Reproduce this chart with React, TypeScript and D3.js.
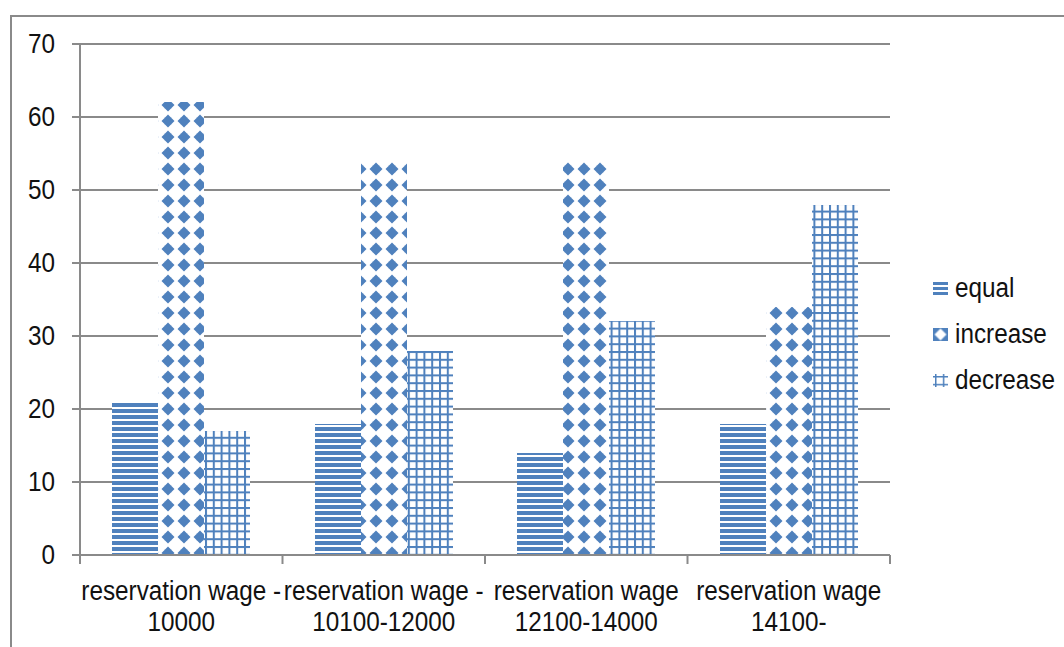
import React from "react";
import * as d3 from "d3";

const categories = [
  ["reservation wage -", "10000"],
  ["reservation wage -", "10100-12000"],
  ["reservation wage", "12100-14000"],
  ["reservation wage", "14100-"],
];
const seriesNames = ["equal", "increase", "decrease"];
const equalValues = [21, 18, 14, 18];
const increaseValues = [62, 54, 54, 34];
const decreaseValues = [17, 28, 32, 48];
const yTicks = [0, 10, 20, 30, 40, 50, 60, 70];

const W = 1064;
const H = 647;
const BLUE = "#4f81bd";
const GRID = "#8a8a8a";
const FONT = "'Liberation Sans', Arial, sans-serif";
const FS = 24.3;
const SY = 1.1;

function Label({ x, y, anchor, children }: { x: number; y: number; anchor: string; children: React.ReactNode }) {
  return (
    <g transform={`translate(${x},${y}) scale(1,${SY})`}>
      <text x={0} y={0} dy="0.35em" textAnchor={anchor} fontFamily={FONT} fontSize={FS} fill="#111">
        {children}
      </text>
    </g>
  );
}

export default function App() {
  const left = 80, right = 890, top = 44, bottom = 555;
  const y = d3.scaleLinear().domain([0, 70]).range([bottom, top]);
  const catIdx = categories.map((_, i) => String(i));
  const x0 = d3.scaleBand().domain(catIdx).range([left, right]).paddingInner(0.3185).paddingOuter(0.3185 / 2);
  const x1 = d3.scaleBand().domain(seriesNames).range([0, x0.bandwidth()]);
  const step = x0.step();
  const seriesData = [equalValues, increaseValues, decreaseValues];
  const fills = ["url(#pEqual)", "url(#pIncrease)", "url(#pDecrease)"];
  const legendFills = ["url(#pEqualL)", "url(#pIncreaseL)", "url(#pDecreaseL)"];
  const boundaries = d3.range(categories.length + 1).map((i) => left + i * step);

  const diamond = "M8,1.5 L14.5,8 L8,14.5 L1.5,8 Z M4.5,4.5 H11.5 V11.5 H4.5 Z";
  const legendX = 933;
  const legendY = [288, 334, 380];

  return (
    <svg width={W} height={H} style={{ position: "absolute", left: 0, top: 0, background: "#fff" }}>
      <defs>
        <pattern id="pEqual" patternUnits="userSpaceOnUse" width="8" height="6" x="0" y="1">
          <rect width="8" height="6" fill="#fff" />
          <rect width="8" height="4" fill={BLUE} />
        </pattern>
        <pattern id="pIncrease" patternUnits="userSpaceOnUse" width="16" height="16" x="0" y="1">
          <rect width="16" height="16" fill="#fff" />
          <path d={diamond} fill={BLUE} fillRule="nonzero" />
        </pattern>
        <pattern id="pDecrease" patternUnits="userSpaceOnUse" width="7.8" height="7.8" x="205" y="0">
          <rect width="7.8" height="7.8" fill="#fff" />
          <rect width="2" height="7.8" fill={BLUE} />
          <rect width="7.8" height="2" fill={BLUE} />
        </pattern>
        <pattern id="pEqualL" patternUnits="userSpaceOnUse" width="8" height="5" x="0" y={legendY[0] - 6}>
          <rect width="8" height="5" fill="#fff" />
          <rect width="8" height="3" fill={BLUE} />
        </pattern>
        <pattern id="pIncreaseL" patternUnits="userSpaceOnUse" width="16" height="16" x={legendX + 7.5 - 8} y={legendY[1] + 0.5 - 8}>
          <rect width="16" height="16" fill={BLUE} />
          <path d="M8,2 L14,8 L8,14 L2,8 Z" fill="#fff" />
        </pattern>
        <pattern id="pDecreaseL" patternUnits="userSpaceOnUse" width="7.8" height="7.8" x={legendX + 2} y={legendY[2] - 4}>
          <rect width="7.8" height="7.8" fill="#fff" />
          <rect width="1.5" height="7.8" fill={BLUE} />
          <rect width="7.8" height="1.5" fill={BLUE} />
        </pattern>
      </defs>

      {/* outer frame */}
      <path d={`M11,${H} L11,16 L${W},16`} fill="none" stroke={GRID} strokeWidth={2} />

      {/* gridlines */}
      {yTicks.map((t) => (
        <line key={t} x1={left - 8} x2={right} y1={y(t)} y2={y(t)} stroke={GRID} strokeWidth={2} />
      ))}
      {/* y axis */}
      <line x1={left} x2={left} y1={top} y2={bottom} stroke={GRID} strokeWidth={2} />
      {yTicks.map((t) => (
        <Label key={"l" + t} x={55} y={y(t)} anchor="end">
          {t}
        </Label>
      ))}

      {/* bars */}
      {seriesData.map((vals, si) =>
        vals.map((v, ci) => (
          <rect
            key={si + "-" + ci}
            x={(x0(String(ci)) as number) + (x1(seriesNames[si]) as number)}
            y={y(v)}
            width={x1.bandwidth()}
            height={y(0) - y(v)}
            fill={fills[si]}
            shapeRendering="crispEdges"
          />
        ))
      )}

      {/* x axis */}
      <line x1={left - 8} x2={right} y1={bottom} y2={bottom} stroke={GRID} strokeWidth={2} />
      {boundaries.map((b, i) => (
        <line key={"b" + i} x1={b} x2={b} y1={bottom} y2={bottom + 9} stroke={GRID} strokeWidth={2} />
      ))}
      {categories.map((lines, ci) =>
        lines.map((ln, li) => (
          <Label key={"c" + ci + "-" + li} x={(x0(String(ci)) as number) + x0.bandwidth() / 2} y={591 + li * 31} anchor="middle">
            {ln}
          </Label>
        ))
      )}

      {/* legend */}
      {seriesNames.map((s, i) => (
        <g key={s}>
          <rect x={legendX} y={legendY[i] - 6} width={15} height={13} fill={legendFills[i]} shapeRendering="crispEdges" />
          <Label x={955} y={legendY[i]} anchor="start">
            {s}
          </Label>
        </g>
      ))}
    </svg>
  );
}
